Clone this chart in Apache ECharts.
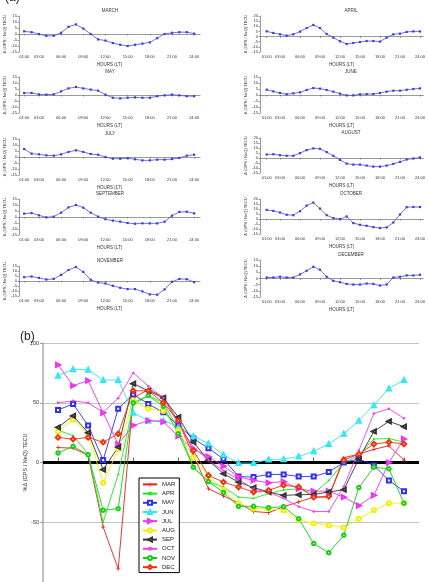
<!DOCTYPE html>
<html>
<head>
<meta charset="utf-8">
<script src="https://cdn.jsdelivr.net/npm/echarts@6.0.0/dist/echarts.min.js"></script>
<style>
html,body{margin:0;padding:0;background:#fff;}
#chart{width:428px;height:582px;}
</style>
</head>
<body>
<div id="chart"></div>
<script>
var hours = [1,2,3,4,5,6,7,8,9,10,11,12,13,14,15,16,17,18,19,20,21,22,23,24];
var tickHours = [1,3,6,9,12,15,18,21,24];

// (a) difference GPS - NeQ, TECU
var tecMar = [2.2,1.5,0,-1.5,-1.5,1,6,8,4.5,0,-4.5,-5.5,-7.5,-9,-10,-9,-8,-7,-3.5,0,1,1.5,1.5,0.3];
var tecApr = [5.1,3.5,2.2,0.9,2.2,4.8,8.3,11.3,8.3,2.5,-1,-4.6,-7.2,-6.2,-5.3,-4.3,-4.3,-4.9,-1,2.2,2.8,4.5,5,5];
var tecMay = [1.7,1.7,0.5,0.3,0.5,3,5.5,6.7,5.5,4.5,3.6,0.3,-2.3,-2.8,-2.3,-2,-2.3,-2.3,-1,-0.3,0.3,-0.3,-1,-1];
var tecJun = [4.4,3,1.7,0.6,1.4,2.2,4.2,5.8,5.3,4.2,2.8,1.1,-0.3,-0.3,0.6,0.8,0.8,1.7,2.8,3.6,3.6,4.4,5,5.5];
var tecJul = [6.7,2.8,2.2,1.4,1.1,2.2,4.2,5.6,4.2,2.5,1.9,0,-1.4,-1.4,-1.1,-1.9,-2.8,-2.8,-2.2,-2.2,-1.7,-0.8,1.1,1.9];
var tecAug = [3.5,3.8,2.8,2.2,2.2,4.8,7.9,9.6,9.2,5.9,2.2,-1.9,-5.6,-6.6,-6.6,-7.6,-8.6,-8.6,-7.6,-5.9,-3.9,-1.5,-0.5,0.5];
var tecSep = [2.8,3.3,1.4,-0.3,0.3,3.6,8,10,7.8,3.6,0.3,-1.9,-3,-3.9,-5,-5.6,-5.3,-5.3,-5.3,-3.9,1.1,4.2,4.4,3];
var tecOct = [9.1,8.1,6.5,4.2,3.8,7.8,13.4,16.4,10.4,3.8,0.9,-0.1,2.5,-4.1,-5.8,-6.8,-8.1,-9.1,-8.4,-3.5,4.5,11.8,12,12];
var tecNov = [3.8,4.5,3.1,1.5,2.1,6.1,11,14,9.1,1.2,-1.5,-2.5,-4.8,-6.8,-8.1,-8.1,-10.4,-13.4,-13.7,-8.4,-0.8,2.1,1.8,-1.2];
var tecDec = [0.8,0.8,1.4,0.8,0.8,3.3,6.3,9.5,7.1,1.4,-1.9,-3,-4.4,-4.9,-4.9,-4.1,-4.4,-5.7,-4.9,0.8,1.4,2.5,2.5,3];

// (b) percentage difference
var monthNames = ['MAR','APR','MAY','JUN','JUL','AUG','SEP','OCT','NOV','DEC'];
var pctMar = [12.5,12,6,-54,-89,54,61,55,34,6,-22,-28,-34,-41,-42,-37,-33,-29,-29,4,7,11,14,2];
var pctApr = [27,22.5,7,-50,-10,48,56,50,28,-4,-16,-20.5,-29,-30,-26,-23,-22,-26,-15,0,6,19.7,20,17];
var pctMay = [44,49,31,2,45,57,49,42,31,20,12,3,-11.7,-12.2,-10,-10,-11.7,-11.7,-8,0,3,-2.5,-15,-24];
var pctJun = [72.6,78,77.6,69,69,41.6,35,35,30,22,16,6.4,-0.5,-0.5,2.5,2.8,5,9.4,15.5,24,35,48,62,69];
var pctJul = [81.7,64.3,68.5,41.6,15.4,31,35,34,22,11,5,-3,-12,-15,-17,-16,-22,-24,-24,-29,-36,-27.5,0,19.7];
var pctAug = [26,36,24,-17,11,52,45,43,27,4,-11,-23,-34,-38.6,-38.6,-40,-48,-51,-52.5,-54.4,-47,-40,-34,-34];
var pctSep = [29.4,39,25,-6,12.8,66,60,54,38,17,1.7,-9.4,-16.4,-21,-24.7,-27.5,-27,-26.7,-24.7,-22.8,3,26,34.4,30];
var pctOct = [50,51.6,50,42,53.8,75,64,54,32,12.7,2,-7,-14,-22,-25,-30,-37,-41,-41,-20,10,41,45,37];
var pctNov = [8,13.5,6.5,-40,-38.6,50,56,47,24,-4,-16,-25,-36.7,-36.7,-37.8,-37,-47,-67.8,-75.5,-60.8,-21,-3.9,-5.3,-34];
var pctDec = [21,19.5,21,17,24,60,60,50,35,10,-10.8,-16.4,-20.5,-24.7,-23.3,-19,-20.5,-29,-28.3,2,7,15.5,17,15.5];

var font = 'Liberation Sans';
var myChart = echarts.init(document.getElementById('chart'));

function pairs(vals){
    var out = [];
    for(var i=0;i<hours.length;i++){ out.push([hours[i], vals[i]]); }
    return out;
}
function hourLabel(v){ return (v<10?'0':'')+v+':00'; }

// small panels of (a)
var panels = [
    {name:'MARCH',     data:tecMar, col:0, top:16,  h:36, min:-15, max:15},
    {name:'APRIL',     data:tecApr, col:1, top:16,  h:36, min:-15, max:20},
    {name:'MAY',       data:tecMay, col:0, top:77,  h:36, min:-15, max:15},
    {name:'JUNE',      data:tecJun, col:1, top:77,  h:36, min:-15, max:15},
    {name:'JULY',      data:tecJul, col:0, top:139, h:36, min:-15, max:15},
    {name:'AUGUST',    data:tecAug, col:1, top:138, h:35, min:-15, max:20},
    {name:'SEPTEMBER', data:tecSep, col:0, top:199, h:36, min:-15, max:15},
    {name:'OCTOBER',   data:tecOct, col:1, top:199, h:35, min:-15, max:20},
    {name:'NOVEMBER',  data:tecNov, col:0, top:266, h:30, min:-15, max:15},
    {name:'DECEMBER',  data:tecDec, col:1, top:260, h:37, min:-15, max:15}
];

var grids = [], xAxes = [], yAxes = [], series = [], graphics = [];

panels.forEach(function(p, i){
    var left = p.col === 0 ? 19 : 260;
    var xmin = p.col === 0 ? 0.3 : 0;
    var xmax = p.col === 0 ? 24.8 : 24.5;
    var width = (xmax - xmin) * (p.col === 0 ? 7.39 : 7.33);
    grids.push({left:left, top:p.top, width:width, height:p.h});
    xAxes.push({
        type:'value', gridIndex:i, min:xmin, max:xmax,
        name:'HOURS (LT)', nameLocation:'middle', nameGap:10, nameMoveOverlap:false,
        nameTextStyle:{fontSize:4.5, color:'#333', fontFamily:font},
        axisLine:{lineStyle:{color:'#555', width:0.6}},
        axisTick:{customValues:tickHours, length:1.5, lineStyle:{color:'#555', width:0.6}},
        axisLabel:{customValues:tickHours, formatter:hourLabel, margin:3, fontSize:4, color:'#333', fontFamily:font},
        splitLine:{show:false}
    });
    yAxes.push({
        type:'value', gridIndex:i, min:p.min, max:p.max, interval:5,
        name:'\u0394 (GPS / NeQ) TECU', nameLocation:'middle', nameGap:12, nameMoveOverlap:false,
        nameTextStyle:{fontSize:4, color:'#333', fontFamily:font},
        axisLine:{show:true, lineStyle:{color:'#555', width:0.6}},
        axisTick:{show:true, length:1.5, lineStyle:{color:'#555', width:0.6}},
        axisLabel:{margin:2, fontSize:4, color:'#333', fontFamily:font},
        splitLine:{show:false}
    });
    series.push({
        type:'line', xAxisIndex:i, yAxisIndex:i, data:pairs(p.data),
        symbol:'rect', symbolSize:2.2, silent:true,
        itemStyle:{color:'#3a3ad8'},
        lineStyle:{color:'#4c4ce6', width:0.8}
    });
    graphics.push({
        type:'text', x:(p.col === 0 ? 110 : 351), y:p.top - 8,
        style:{text:p.name, textAlign:'center', fontSize:4.5, fill:'#333', fontFamily:font}
    });
});

// panel (b)
var bi = panels.length;
grids.push({left:43, top:343, width:376, height:241});
xAxes.push({
    type:'value', gridIndex:bi, min:0, max:25,
    axisLine:{show:false},
    axisTick:{customValues:tickHours, inside:true, length:5, lineStyle:{color:'#666'}},
    axisLabel:{show:false},
    splitLine:{show:false}
});
yAxes.push({
    type:'value', gridIndex:bi, min:-100, max:100, interval:50,
    name:'%\u0394 (GPS / NeQ) TECU', nameLocation:'middle', nameGap:15, nameMoveOverlap:false,
    nameTextStyle:{fontSize:5.5, color:'#333', fontFamily:font},
    axisLine:{show:true, lineStyle:{color:'#aaa', width:1.5}},
    axisTick:{show:true, length:3, lineStyle:{color:'#999'}},
    axisLabel:{margin:4, fontSize:5.5, color:'#333', fontFamily:font, showMinLabel:false},
    splitLine:{show:true, lineStyle:{color:'#c4c4c4', width:1}}
});

var pctData = [pctMar,pctApr,pctMay,pctJun,pctJul,pctAug,pctSep,pctOct,pctNov,pctDec];
var colors = ['#ee1c1c','#1ee81e','#3030f0','#30e8f0','#f030f0','#f0f000','#333333','#f040e8','#10d010','#f03010'];
var plus = 'path://M4,0h2v4h4v2h-4v4h-2v-4h-4v-2h4z';
var symbols = [
    {symbol:plus, size:4, rot:0},
    {symbol:'circle', size:2, rot:0},
    {symbol:'emptyRect', size:4, rot:0},
    {symbol:'emptyTriangle', size:4, rot:0},
    {symbol:'emptyTriangle', size:4, rot:-90},
    {symbol:'emptyCircle', size:4, rot:0},
    {symbol:'emptyTriangle', size:4, rot:90},
    {symbol:'circle', size:2.5, rot:0},
    {symbol:'emptyCircle', size:3.5, rot:0},
    {symbol:'emptyDiamond', size:4.5, rot:0}
];

monthNames.forEach(function(m, k){
    var s = {
        name:m, type:'line', xAxisIndex:bi, yAxisIndex:bi, data:pairs(pctData[k]),
        symbol:symbols[k].symbol, symbolSize:symbols[k].size, symbolRotate:symbols[k].rot,
        itemStyle:{color:colors[k], borderWidth:0.8}, lineStyle:{color:colors[k], width:0.9},
        silent:true, z:3
    };
    if(k === 0){
        s.markLine = {
            silent:true, symbol:'none', label:{show:false}, z:2,
            lineStyle:{color:'#000', width:3, type:'solid'},
            data:[{yAxis:0}]
        };
    }
    series.push(s);
});

graphics.push({type:'text', x:5, y:-8, style:{text:'(a)', fontSize:12, fill:'#222', fontFamily:font}});
graphics.push({type:'text', x:20, y:331, style:{text:'(b)', fontSize:12, fill:'#222', fontFamily:font}});

var option = {
    animation:false,
    backgroundColor:'#fff',
    textStyle:{fontFamily:font},
    grid:grids,
    xAxis:xAxes,
    yAxis:yAxes,
    legend:{
        data:monthNames, orient:'vertical', left:139, top:478,
        itemWidth:14, itemHeight:5, itemGap:2.4,
        padding:[3,4,2,3],
        backgroundColor:'#fff', borderColor:'#000', borderWidth:1,
        textStyle:{fontSize:6, lineHeight:6.8, color:'#222', fontFamily:font}
    },
    graphic:graphics,
    series:series
};
myChart.setOption(option);
</script>
</body>
</html>
